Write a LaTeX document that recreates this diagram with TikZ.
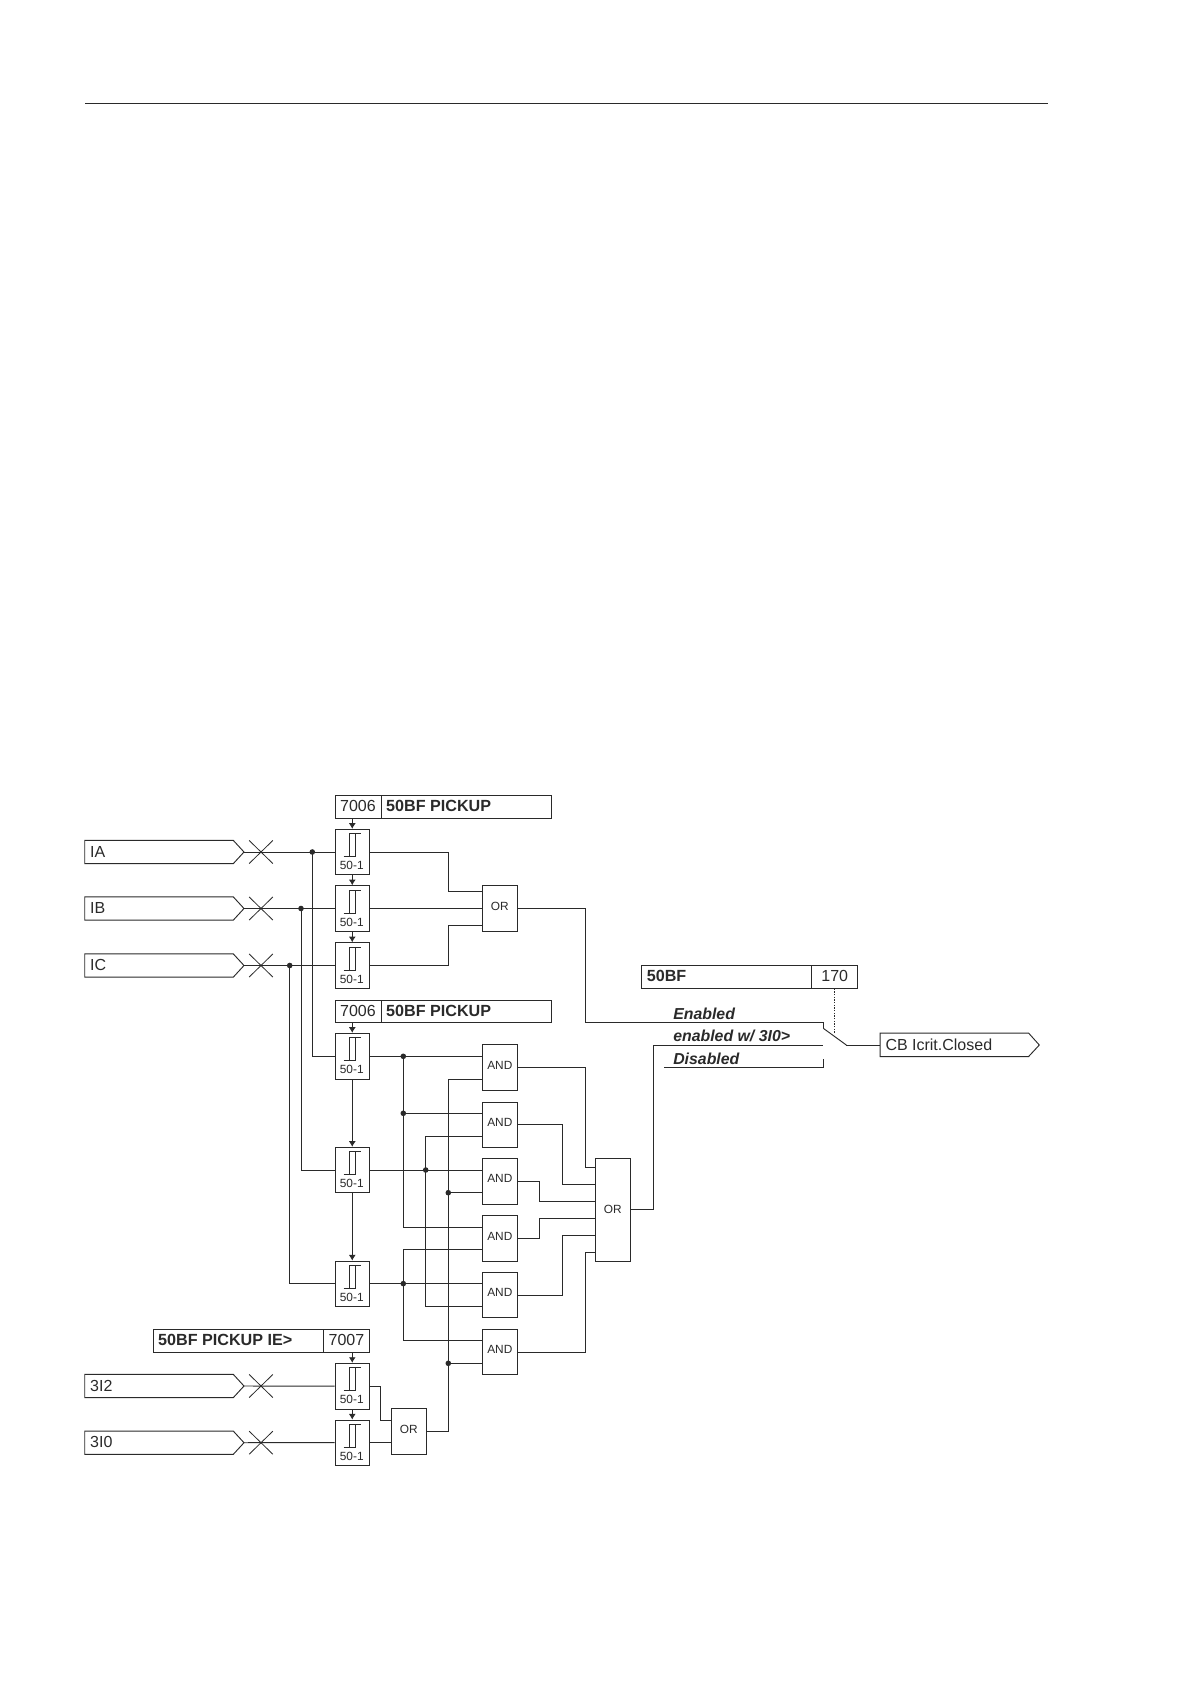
\documentclass[tikz,border=0pt]{standalone}
\usepackage{fontspec}
\setmainfont{Liberation Sans}
\usetikzlibrary{arrows.meta,calc}
\definecolor{ink}{HTML}{2A2A2A}
\tikzset{
  wire/.style={draw=ink,line width=0.7pt},
  arr/.style={wire,-{Latex[length=4.2pt,width=5.2pt]}},
  thinwire/.style={draw=ink,line width=0.6pt},
  dotted wire/.style={draw=ink,line width=0.5pt,dash pattern=on 1pt off 1pt},
  boxed/.style={draw=ink,line width=0.7pt,fill=white,inner sep=0pt,font=\fontsize{12}{13}\selectfont,text=ink},
  gate/.style={boxed,font=\fontsize{8.9}{10}\selectfont},
  lbl/.style={inner sep=0pt,text=ink},
  sigtext/.style={lbl,font=\fontsize{12}{13}\selectfont},
  smalltext/.style={lbl,font=\fontsize{8.9}{10}\selectfont},
  modetext/.style={lbl,anchor=base west,font=\fontsize{11.9}{13}\selectfont\bfseries\itshape},
  junction/.style={circle,fill=ink,inner sep=0pt,minimum size=4.2pt},
}
\newcommand{\placebox}[7]{%
  \pgfmathsetmacro\bw{((#5)-(#3))*0.75}\pgfmathsetmacro\bh{((#6)-(#4))*0.75}%
  \node[#1,minimum width=\bw pt,minimum height=\bh pt] (#2) at ({((#3)+(#5))/2},{((#4)+(#6))/2}) {#7};}
\newcommand{\lefttext}[1]{\makebox[\bw pt][l]{\hspace{3.9pt}\rule[-0.9pt]{0pt}{9.4pt}#1}}
\newcommand{\gatetext}[1]{\raisebox{3.6pt}{#1}}
\newcommand{\numtext}[1]{\raisebox{0.6pt}{#1}}
% threshold block: name, x1, y1, x2, y2
\newcommand{\thresh}[5]{%
  \placebox{boxed}{#1}{#2}{#3}{#4}{#5}{}%
  \draw[thinwire] ([shift={(-8.7,28)}]#1.north) -- ++(11.7,0) -- ++(0,-23);
  \draw[thinwire] ([shift={(-2.7,28)}]#1.north) -- ++(0,-23) -- ++(11.4,0);
  \node[smalltext] (#1lab) at ([shift={(-0.5,37)}]#1.north) {50-1};}
% input signal: name, y centre, text
\newcommand{\sigin}[3]{%
  \placebox{sigtext}{#1}{85}{#2-11.4}{233}{#2+11.4}{\lefttext{#3}}%
  \coordinate (#1tip) at (244,#2);
  \coordinate (#1x) at (261,#2);
  \draw[wire] (#1.north west) -- (#1.north east) -- (#1tip) -- (#1.south east) -- (#1.south west) -- cycle;
  \draw[thinwire] ([shift={(-11.8,-11.5)}]#1x) -- ([shift={(11.8,11.5)}]#1x);
  \draw[thinwire] ([shift={(-11.8,11.5)}]#1x) -- ([shift={(11.8,-11.5)}]#1x);}
\begin{document}
\begin{tikzpicture}[x=0.75pt,y=-0.75pt]
\useasboundingbox (0,0) rectangle (1190,1684);
\coordinate (ruleL) at (85,103.5);
\coordinate (ruleR) at (1048,103.5);
\draw[thinwire] (ruleL) -- (ruleR);

% headers
\placebox{boxed}{ha}{335}{795}{381}{818}{\numtext{7006}}
\placebox{boxed}{hat}{381}{795}{551}{818}{\lefttext{\fontsize{12.1}{13}\selectfont\bfseries 50BF PICKUP}}
\placebox{boxed}{hb}{335}{1000}{381}{1022.5}{\numtext{7006}}
\placebox{boxed}{hbt}{381}{1000}{551}{1022.5}{\lefttext{\fontsize{12.1}{13}\selectfont\bfseries 50BF PICKUP}}
\placebox{boxed}{hct}{153}{1329.3}{323.3}{1352}{\lefttext{\fontsize{12.1}{13}\selectfont\bfseries 50BF PICKUP IE>}}
\placebox{boxed}{hc}{323.3}{1329.3}{369.5}{1352}{\numtext{7007}}
\placebox{boxed}{hdt}{641.7}{965.3}{811.7}{988.3}{\lefttext{\fontsize{12.1}{13}\selectfont\bfseries 50BF}}
\placebox{boxed}{hd}{811.7}{965.3}{857.7}{988.3}{\numtext{170}}

% threshold blocks
\thresh{ta}{335}{829.3}{369.5}{874.7}
\thresh{tb}{335}{885.7}{369.5}{931.3}
\thresh{tc}{335}{942.7}{369.5}{988.3}
\thresh{td}{335}{1033.3}{369.5}{1079.3}
\thresh{te}{335}{1147.3}{369.5}{1192.7}
\thresh{tf}{335}{1261}{369.5}{1306.3}
\thresh{tg}{335}{1363.3}{369.5}{1409}
\thresh{th}{335}{1420}{369.5}{1465.3}

% gates
\placebox{gate}{ora}{482.3}{885.7}{517.3}{931.3}{\gatetext{OR}}
\placebox{gate}{anda}{482.3}{1044.7}{517.3}{1090.7}{\gatetext{AND}}
\placebox{gate}{andb}{482.3}{1102}{517.3}{1147.3}{\gatetext{AND}}
\placebox{gate}{andc}{482.3}{1158.3}{517.3}{1204.3}{\gatetext{AND}}
\placebox{gate}{andd}{482.3}{1215.7}{517.3}{1261}{\gatetext{AND}}
\placebox{gate}{ande}{482.3}{1272.3}{517.3}{1317.7}{\gatetext{AND}}
\placebox{gate}{andf}{482.3}{1329.3}{517.3}{1374.7}{\gatetext{AND}}
\placebox{gate}{orb}{595.7}{1158.3}{630}{1261}{OR}
\placebox{gate}{orc}{391.7}{1408.7}{426}{1454}{\gatetext{OR}}

% inputs
\sigin{IA}{852}{IA}
\sigin{IB}{908.5}{IB}
\sigin{IC}{965.5}{IC}
\sigin{SI}{1386}{3I2}
\sigin{SO}{1442.7}{3I0}
\draw[wire] (IAtip) -- (ta.west);
\draw[wire] (IBtip) -- (tb.west);
\draw[wire] (ICtip) -- (tc.west);
\draw[wire] (SItip) -- (tg.west);
\draw[wire] (SOtip) -- (th.west);

% setting arrows
\draw[arr] (ta.north |- ha.south) -- (ta.north);
\draw[arr] (ta.south) -- (tb.north);
\draw[arr] (tb.south) -- (tc.north);
\draw[arr] (td.north |- hb.south) -- (td.north);
\draw[arr] (td.south) -- (te.north);
\draw[arr] (te.south) -- (tf.north);
\draw[arr] (tg.north |- hc.south) -- (tg.north);
\draw[arr] (tg.south) -- (th.north);

% phase tap lines
\node[junction] (ja) at (312.3,852) {};
\node[junction] (jb) at (301,908.5) {};
\node[junction] (jc) at (289.7,965.5) {};
\draw[wire] (ja.center) |- (td.west);
\draw[wire] (jb.center) |- (te.west);
\draw[wire] (jc.center) |- (tf.west);

% first OR
\coordinate (oa1) at (448.7,891.7);
\coordinate (oa3) at (448.7,925.7);
\draw[wire] (ta.east) -| (oa1) -- (oa1 -| ora.west);
\draw[wire] (tb.east) -- (ora.west);
\draw[wire] (tc.east) -| (oa3) -- (oa3 -| ora.west);

% AND inputs
\node[junction] (k1) at (403.3,1056.3) {};
\node[junction] (k2) at (403.3,1113.3) {};
\node[junction] (k3) at (425.7,1170) {};
\node[junction] (k4) at (448.3,1192.7) {};
\node[junction] (k5) at (403.3,1283.6) {};
\node[junction] (k6) at (448.3,1363.3) {};
\coordinate (v1b) at (403.3,1227);
\coordinate (v2t) at (425.7,1136);
\coordinate (v2b) at (425.7,1306.3);
\coordinate (v3t) at (448.3,1079.3);
\coordinate (v4t) at (403.3,1249.7);
\coordinate (v4b) at (403.3,1340.3);
\draw[wire] (td.east) -- (td.east -| anda.west);
\draw[wire] (te.east) -- (te.east -| andc.west);
\draw[wire] (tf.east) -- (tf.east -| ande.west);
\draw[wire] (k1.center) -- (v1b) -- (v1b -| andd.west);
\draw[wire] (k2.center) -- (k2 -| andb.west);
\draw[wire] (andb.west |- v2t) -- (v2t) -- (v2b) -- (v2b -| ande.west);
\draw[wire] (anda.west |- v3t) -- (v3t) -- (k6.center) -- (k6 -| andf.west);
\draw[wire] (k4.center) -- (k4 -| andc.west);
\draw[wire] (andd.west |- v4t) -- (v4t) -- (v4b) -- (v4b -| andf.west);

% AND outputs to large OR
\coordinate (b1) at (585,1167.3);
\coordinate (b2) at (562.7,1184.3);
\coordinate (b3) at (539.7,1201.3);
\coordinate (b4) at (539.7,1218.7);
\coordinate (b5) at (562.7,1235.7);
\coordinate (b6) at (585,1252.7);
\draw[wire] (anda.east) -| (b1) -- (b1 -| orb.west);
\draw[wire] (andb.east) -| (b2) -- (b2 -| orb.west);
\draw[wire] (andc.east) -| (b3) -- (b3 -| orb.west);
\draw[wire] (andd.east) -| (b4) -- (b4 -| orb.west);
\draw[wire] (ande.east) -| (b5) -- (b5 -| orb.west);
\draw[wire] (andf.east) -| (b6) -- (b6 -| orb.west);

% small OR
\coordinate (s1) at (380.7,1420.3);
\draw[wire] (tg.east) -| (s1) -- (s1 -| orc.west);
\draw[wire] (th.east) -- (th.east -| orc.west);
\draw[wire] (orc.east) -| (k6.center);

% selector
\coordinate (swen) at (823.3,1022);
\coordinate (swen2) at (823.3,1028.3);
\coordinate (swout) at (846.3,1045);
\coordinate (swmid) at (823.3,1045);
\coordinate (swdis) at (823.3,1059.3);
\coordinate (swdisb) at (823.3,1067.7);
\coordinate (swdisl) at (664.3,1067.7);
\coordinate (ena) at (585,1022);
\coordinate (mid) at (653.3,1045);
\node[modetext] (mEn) at (673,1019) {Enabled};
\node[modetext] (mEw) at (673,1041.7) {enabled w/ 3I0>};
\node[modetext] (mDi) at (673,1064) {Disabled};
\draw[wire] (ora.east) -| (ena) -- (swen) -- (swen2);
\draw[wire] (swen2) -- (swout);
\draw[wire] (orb.east) -| (mid) -- (swmid);
\draw[wire] (swdisl) -- (swdisb) -- (swdis);
\placebox{sigtext}{out}{880.3}{1033.3}{1028.3}{1056.3}{\lefttext{CB Icrit.Closed}}
\coordinate (outtip) at (1039.3,1045);
\draw[wire] (out.north west) -- (out.north east) -- (outtip) -- (out.south east) -- (out.south west) -- cycle;
\draw[wire] (swout) -- (swout -| out.west);
\coordinate (dotend) at (834.7,1034);
\draw[dotted wire] (hd.south -| dotend) -- (dotend);
\end{tikzpicture}
\end{document}
